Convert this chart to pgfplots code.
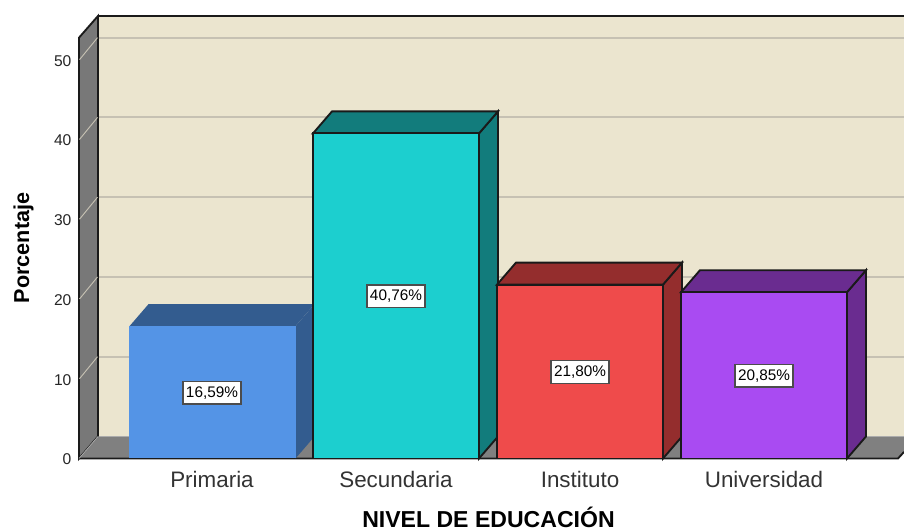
\documentclass[border=0pt]{standalone}
\usepackage{pgfplots}
\pgfplotsset{compat=1.18}
\usepackage{fontspec}
\setmainfont{Liberation Sans}
\definecolor{wall}{HTML}{EBE5CF}
\definecolor{side}{HTML}{787878}
\definecolor{floorc}{HTML}{808080}
\definecolor{gridc}{HTML}{C6C1B3}
\definecolor{edge}{HTML}{1A1A1A}
\definecolor{blueF}{HTML}{5494E6}
\definecolor{blueD}{HTML}{335C8F}
\definecolor{tealF}{HTML}{1CCFCF}
\definecolor{tealD}{HTML}{127C7C}
\definecolor{redF}{HTML}{EF4B4B}
\definecolor{redD}{HTML}{942D2D}
\definecolor{purF}{HTML}{A94BF2}
\definecolor{purD}{HTML}{6A2C90}
\begin{document}
\begin{tikzpicture}[x=1pt,y=1pt]
\begin{axis}[
  scale only axis,
  width=618.75pt, height=331.875pt,
  xmin=79, xmax=904, ymin=0, ymax=55.48,
  clip=false,
  axis line style={draw=none},
  major tick length=0pt,
  xtick={212,396,580,764},
  xticklabels={Primaria,Secundaria,Instituto,Universidad},
  ytick={0,10,20,30,40,50},
  xticklabel style={font=\fontsize{16.8}{18}\selectfont, text=black!80, anchor=center, yshift=-15.5pt, inner sep=0pt},
  yticklabel style={font=\fontsize{11.7}{13}\selectfont, text=black!85, anchor=east, inner sep=0pt, xshift=-5.5pt, yshift=-0.7pt},
  /pgf/number format/assume math mode=true,
  xlabel={NIVEL DE EDUCACIÓN},
  ylabel={Porcentaje},
  every axis x label/.style={at={(axis cs:488.5,-8.7)},anchor=base,inner sep=0pt,font=\bfseries\fontsize{17.3}{19}\selectfont},
  every axis y label/.style={at={(axis cs:23.5,26.4)},anchor=center,rotate=90,font=\bfseries\fontsize{16.2}{18}\selectfont},
]
% back wall
\addplot[fill=wall,draw=none] coordinates {(98,2.76)(904,2.76)(904,55.48)(98,55.48)} -- cycle;
% side wall
\addplot[fill=side,draw=edge,line width=1.4pt] coordinates {(79,0)(98,2.76)(98,55.48)(79,52.76)} -- cycle;
% floor
\addplot[fill=floorc,draw=none] coordinates {(79,0)(898,0)(904,0.82)(904,2.76)(98,2.76)} -- cycle;
\addplot[draw=edge,line width=1.4pt] coordinates {(79,0)(898,0)(904,0.82)};
\addplot[draw=edge,line width=1.4pt] coordinates {(98,55.48)(904,55.48)};
\addplot[draw=edge,line width=1.4pt] coordinates {(98,2.76)(98,55.48)};
\addplot[draw=side!60!white,line width=0.5pt] coordinates {(79,0)(98,2.76)};
% grid on back wall
\addplot[draw=gridc,line width=1.5pt] coordinates {(98.8,12.76)(904,12.76)};
\addplot[draw=gridc,line width=1.5pt] coordinates {(98.8,22.76)(904,22.76)};
\addplot[draw=gridc,line width=1.5pt] coordinates {(98.8,32.76)(904,32.76)};
\addplot[draw=gridc,line width=1.5pt] coordinates {(98.8,42.76)(904,42.76)};
\addplot[draw=gridc,line width=1.5pt] coordinates {(98.8,52.76)(904,52.76)};
% grid on side wall
\addplot[draw=gridc,line width=0.7pt] coordinates {(79.5,10)(97.5,12.76)};
\addplot[draw=gridc,line width=0.7pt] coordinates {(79.5,20)(97.5,22.76)};
\addplot[draw=gridc,line width=0.7pt] coordinates {(79.5,30)(97.5,32.76)};
\addplot[draw=gridc,line width=0.7pt] coordinates {(79.5,40)(97.5,42.76)};
\addplot[draw=gridc,line width=0.7pt] coordinates {(79.5,50)(97.5,52.76)};
% Primaria
\addplot[fill=blueD,draw=none] coordinates {(295.5,0)(314.5,2.76)(314.5,19.35)(295.5,16.59)} -- cycle;
\addplot[fill=blueD,draw=none] coordinates {(129.5,16.59)(148.5,19.35)(314.5,19.35)(295.5,16.59)} -- cycle;
\addplot[fill=blueF,draw=none] coordinates {(129.5,0)(129.5,16.59)(295.5,16.59)(295.5,0)} -- cycle;
% Secundaria
\addplot[fill=tealD,draw=edge,line width=1.4pt] coordinates {(479,0)(498,2.76)(498,43.52)(479,40.76)} -- cycle;
\addplot[fill=tealD,draw=edge,line width=1.4pt] coordinates {(313,40.76)(332,43.52)(498,43.52)(479,40.76)} -- cycle;
\addplot[fill=tealF,draw=edge,line width=1.4pt] coordinates {(313,0)(313,40.76)(479,40.76)(479,0)} -- cycle;
% Instituto
\addplot[fill=redD,draw=edge,line width=1.4pt] coordinates {(663,0)(682,2.76)(682,24.56)(663,21.80)} -- cycle;
\addplot[fill=redD,draw=edge,line width=1.4pt] coordinates {(497,21.80)(516,24.56)(682,24.56)(663,21.80)} -- cycle;
\addplot[fill=redF,draw=edge,line width=1.4pt] coordinates {(497,0)(497,21.80)(663,21.80)(663,0)} -- cycle;
% Universidad
\addplot[fill=purD,draw=edge,line width=1.4pt] coordinates {(847,0)(866,2.76)(866,23.61)(847,20.85)} -- cycle;
\addplot[fill=purD,draw=edge,line width=1.4pt] coordinates {(681,20.85)(700,23.61)(866,23.61)(847,20.85)} -- cycle;
\addplot[fill=purF,draw=edge,line width=1.4pt] coordinates {(681,0)(681,20.85)(847,20.85)(847,0)} -- cycle;
% labels
\tikzset{dl/.style={draw=black!70,fill=white,line width=1pt,inner sep=0pt,minimum width=43.5pt,minimum height=17pt,font=\fontsize{11.5}{13}\selectfont}}
\node[dl] at (axis cs:212,8.25) {16,59\%};
\node[dl] at (axis cs:396,20.33) {40,76\%};
\node[dl] at (axis cs:580,10.85) {21,80\%};
\node[dl] at (axis cs:764,10.38) {20,85\%};
\end{axis}
\pgfresetboundingbox
\path ([shift={(-59.25pt,-54.375pt)}]current axis.south west) rectangle ([shift={(0pt,12pt)}]current axis.north east);
\end{tikzpicture}
\end{document}
